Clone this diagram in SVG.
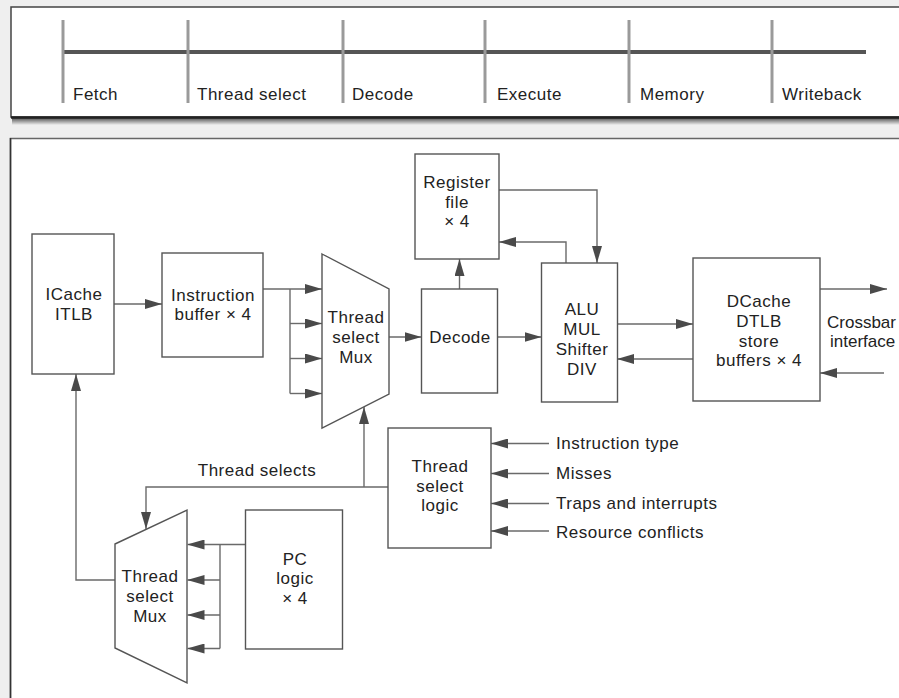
<svg xmlns="http://www.w3.org/2000/svg" width="899" height="698" viewBox="0 0 899 698">
<defs>
<style>
.bg{fill:#efefef}
.panel{fill:#fff;stroke:#444;stroke-width:1.5}
.box{fill:#fff;stroke:#555;stroke-width:1.4}
.ln{fill:none;stroke:#6a6a6a;stroke-width:1.4}
.ar{fill:none;stroke:#6a6a6a;stroke-width:1.4;marker-end:url(#ah)}
.t{font-family:"Liberation Sans",Arial,sans-serif;font-size:17px;letter-spacing:0.5px;fill:#222}
.c{text-anchor:middle}
.tick{stroke:#9a9a9a;stroke-width:3}
</style>
<linearGradient id="sh" x1="0" y1="0" x2="0" y2="1">
<stop offset="0" stop-color="#555"/>
<stop offset="1" stop-color="#efefef"/>
</linearGradient>
<marker id="ah" markerUnits="userSpaceOnUse" markerWidth="17" markerHeight="10" refX="17" refY="5" orient="auto">
<path d="M0,0 L17,5 L0,10 Z" fill="#4a4a4a"/>
</marker>
</defs>
<rect class="bg" x="0" y="0" width="899" height="698"/>
<g id="stages">
<rect x="12" y="118" width="900" height="7" fill="url(#sh)"/>
<rect class="panel" x="11" y="7" width="900" height="110"/>
<line x1="11" y1="117.5" x2="899" y2="117.5" stroke="#222" stroke-width="2.5"/>
<line x1="63" y1="52" x2="866" y2="52" stroke="#555" stroke-width="4"/>
<line class="tick" x1="63" y1="20" x2="63" y2="103"/>
<line class="tick" x1="188" y1="20" x2="188" y2="103"/>
<line class="tick" x1="343" y1="20" x2="343" y2="103"/>
<line class="tick" x1="485" y1="20" x2="485" y2="103"/>
<line class="tick" x1="629" y1="20" x2="629" y2="103"/>
<line class="tick" x1="772" y1="20" x2="772" y2="103"/>
<text class="t" x="73" y="100">Fetch</text>
<text class="t" x="197" y="100">Thread select</text>
<text class="t" x="352" y="100">Decode</text>
<text class="t" x="497" y="100">Execute</text>
<text class="t" x="640" y="100">Memory</text>
<text class="t" x="782" y="100">Writeback</text>
</g>
<rect x="10.5" y="138.5" width="900" height="580" fill="#fff" stroke="#666" stroke-width="1.5"/>
<line x1="10.5" y1="138" x2="10.5" y2="698" stroke="#333" stroke-width="1.5"/>
<g id="connectors">
<path class="ar" d="M114,304 H162"/>
<path class="ar" d="M263,289 H322"/>
<path class="ln" d="M290,289 V393.5"/>
<path class="ar" d="M290,323.5 H322"/>
<path class="ar" d="M290,358.5 H322"/>
<path class="ar" d="M290,393.5 H322"/>
<path class="ar" d="M389,337 H421.5"/>
<path class="ar" d="M459.5,289 V259"/>
<path class="ar" d="M499,190 H597 V263"/>
<path class="ar" d="M566,263 V242 H499"/>
<path class="ar" d="M497,337 H541.5"/>
<path class="ar" d="M617,324 H693"/>
<path class="ar" d="M693,359 H617"/>
<path class="ar" d="M820,289 H887"/>
<path class="ar" d="M884,373 H820"/>
<path class="ar" d="M115,580 H76 V374"/>
<path class="ar" d="M245.5,544.5 H187.5"/>
<path class="ln" d="M220,544.5 V648.5"/>
<path class="ar" d="M220,580 H187.5"/>
<path class="ar" d="M220,615 H187.5"/>
<path class="ar" d="M220,648.5 H187.5"/>
<path class="ar" d="M388,487 H146 V529"/>
<path class="ar" d="M364,487 V407"/>
<path class="ar" d="M549,443.5 H491"/>
<path class="ar" d="M549,473.5 H491"/>
<path class="ar" d="M549,503.5 H491"/>
<path class="ar" d="M549,531 H491"/>
<text class="t c" x="257" y="476">Thread selects</text>
<text class="t" x="556" y="449">Instruction type</text>
<text class="t" x="556" y="479">Misses</text>
<text class="t" x="556" y="509">Traps and interrupts</text>
<text class="t" x="556" y="538">Resource conflicts</text>
<text class="t" x="827" y="328" style="letter-spacing:0">Crossbar</text>
<text class="t" x="830" y="347" style="letter-spacing:0">interface</text>
</g>
<g id="icache">
<rect class="box" x="32" y="234" width="82" height="140"/>
<text class="t c" x="74" y="300">ICache</text>
<text class="t c" x="74" y="320">ITLB</text>
</g>
<g id="ibuffer">
<rect class="box" x="162" y="253" width="101" height="104"/>
<text class="t c" x="213" y="301">Instruction</text>
<text class="t c" x="213" y="320">buffer × 4</text>
</g>
<g id="mux-top">
<polygon class="box" points="322,254 389,289 389,394 322,428"/>
<text class="t c" x="356" y="323">Thread</text>
<text class="t c" x="356" y="343">select</text>
<text class="t c" x="356" y="363">Mux</text>
</g>
<g id="regfile">
<rect class="box" x="415" y="154" width="84" height="105"/>
<text class="t c" x="457" y="188">Register</text>
<text class="t c" x="457" y="208">file</text>
<text class="t c" x="457" y="227">× 4</text>
</g>
<g id="decode">
<rect class="box" x="421.5" y="289" width="76" height="104"/>
<text class="t c" x="460" y="343">Decode</text>
</g>
<g id="alu">
<rect class="box" x="541.5" y="263" width="76" height="139"/>
<text class="t c" x="582" y="315">ALU</text>
<text class="t c" x="582" y="335">MUL</text>
<text class="t c" x="582" y="355">Shifter</text>
<text class="t c" x="582" y="375">DIV</text>
</g>
<g id="dcache">
<rect class="box" x="693" y="258" width="127" height="143"/>
<text class="t c" x="759" y="307">DCache</text>
<text class="t c" x="759" y="327">DTLB</text>
<text class="t c" x="759" y="347">store</text>
<text class="t c" x="759" y="366">buffers × 4</text>
</g>
<g id="tslogic">
<rect class="box" x="388" y="428" width="103" height="120"/>
<text class="t c" x="440" y="472">Thread</text>
<text class="t c" x="440" y="492">select</text>
<text class="t c" x="440" y="511">logic</text>
</g>
<g id="mux-bottom">
<polygon class="box" points="115,544 187,510 187,683 115,648"/>
<text class="t c" x="150" y="582">Thread</text>
<text class="t c" x="150" y="602">select</text>
<text class="t c" x="150" y="622">Mux</text>
</g>
<g id="pclogic">
<rect class="box" x="245.5" y="510" width="97" height="139"/>
<text class="t c" x="295" y="565">PC</text>
<text class="t c" x="295" y="584">logic</text>
<text class="t c" x="295" y="604">× 4</text>
</g>
</svg>
